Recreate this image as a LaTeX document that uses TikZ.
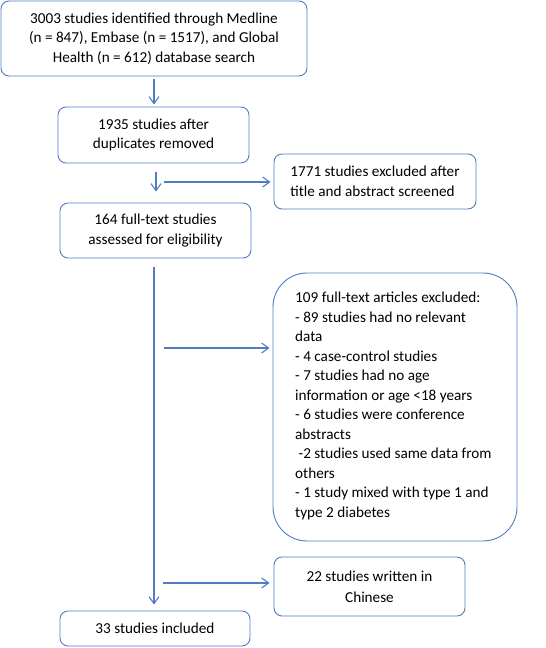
\documentclass[tikz,border=0pt]{standalone}
\usepackage{fontspec}
\setmainfont{Carlito}
\usetikzlibrary{arrows.meta}
\definecolor{obl}{RGB}{79,125,192}
\begin{document}
\begin{tikzpicture}[x=1pt,y=-1pt,
  box/.style={draw=obl, line width=0.9pt, rounded corners=8pt, inner sep=0pt, align=center,
    font=\fontsize{15.2}{19.5}\selectfont},
  txt/.style={inner sep=0pt, align=left, font=\fontsize{15.2}{19.5}\selectfont},
  arr/.style={draw=obl, line width=1.1pt, -{Straight Barb[length=7pt,width=10pt]}}]
\useasboundingbox (0,0) rectangle (546,648);
\node[box, minimum width=306pt, minimum height=75pt] (b1) at (154,38.5)
  {3003 studies identified through Medline\\(n = 847), Embase (n = 1517), and Global\\Health (n = 612) database search};
\node[box, minimum width=191pt, minimum height=56pt] (b2) at (153.5,135)
  {1935 studies after\\duplicates removed};
\node[box, minimum width=202pt, minimum height=55pt, align=left] (b3) at (375,181.5)
  {1771 studies excluded after\\title and abstract screened};
\node[box, minimum width=191pt, minimum height=55pt] (b4) at (155.5,230.5)
  {164 full-text studies\\assessed for eligibility};
\node[box, rounded corners=34pt, minimum width=244pt, minimum height=268pt] (b5) at (395,407) {};
\node[txt, anchor=north west] (b5t) at (295,292)
  {109 full-text articles excluded:\\- 89 studies had no relevant\\data\\- 4 case-control studies\\- 7 studies had no age\\information or age <18 years\\- 6 studies were conference\\abstracts\\\ -2 studies used same data from\\others\\- 1 study mixed with type 1 and\\type 2 diabetes};
\node[box, minimum width=191pt, minimum height=59pt, font=\fontsize{15.2}{21}\selectfont] (b6) at (369.5,586.5)
  {22 studies written in\\Chinese};
\node[box, minimum width=190pt, minimum height=35pt] (b7) at (155,628.5)
  {33 studies included};
\coordinate (h1) at (164,182);
\coordinate (h2) at (164,348);
\coordinate (h3) at (163,583);
\draw[arr, shorten <=3pt, shorten >=2pt] (b1.south) -- (b1.south |- b2.north);
\draw[arr, shorten <=9pt, shorten >=11pt] ([xshift=2.5pt]b2.south) -- ([xshift=2.5pt]b2.south |- b4.north);
\draw[arr, shorten >=3pt] (h1) -- (h1 -| b3.west);
\draw[arr, shorten <=9pt, shorten >=6pt] ([xshift=-1.5pt]b4.south) -- ([xshift=-1.5pt]b4.south |- b7.north);
\draw[arr, shorten >=3pt] (h2) -- (h2 -| b5.west);
\draw[arr, shorten >=4pt] (h3) -- (h3 -| b6.west);
\end{tikzpicture}
\end{document}
